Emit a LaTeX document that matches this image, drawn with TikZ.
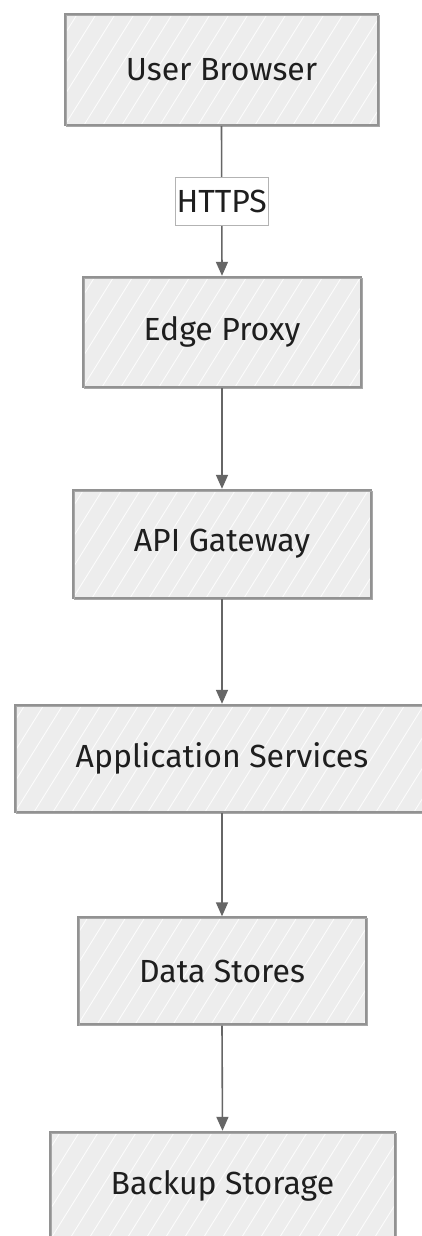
\documentclass[tikz,border=0pt]{standalone}
\usepackage{fontspec}
\setmainfont{Fira Sans}
\usetikzlibrary{arrows.meta}
\definecolor{boxfill}{HTML}{EDEDED}
\definecolor{boxline}{HTML}{929292}
\definecolor{wire}{HTML}{666666}
\definecolor{ink}{HTML}{1E1E1E}
\tikzset{
  hatched/.style={
    path picture={
      \foreach \i in {-8,...,28}
        \draw[white, line width=0.9pt, opacity=0.85]
          ([xshift=\i*19pt]path picture bounding box.south west) -- ++(58:260pt);
    }
  },
  stage/.style={
    rectangle, fill=boxfill, draw=boxline, line width=2.4pt,
    hatched, text=ink, font=\fontsize{32}{36}\selectfont,
    inner sep=0pt, minimum width=#1,
    postaction={draw=boxline!80, line width=0.8pt,
      transform canvas={shift={(1.3pt,-1.1pt)}}}
  },
  flow/.style={draw=wire, line width=1.6pt, -{Triangle[width=12pt,length=14pt]}},
  tag/.style={fill=white, draw=boxline!70, line width=0.7pt, text=ink,
    font=\fontsize{32}{36}\selectfont, inner xsep=1pt, inner ysep=0pt,
    minimum height=48pt}
}
\begin{document}
\begin{tikzpicture}[x=1pt,y=1pt]
\useasboundingbox (0,0) rectangle (422,-1236);
\fill[white] (0,0) rectangle (422,-1236);

\node[stage=313pt, minimum height=111pt] (ub)  at (221.5,-69.5) {User Browser};
\node[stage=278pt, minimum height=110pt] (ep)  at (222,-332)    {Edge Proxy};
\node[stage=298pt, minimum height=108pt] (api) at (222,-544)    {API Gateway};
\node[stage=414pt, minimum height=107pt] (app) at (222,-758.5)  {Application Services};
\node[stage=288pt, minimum height=107pt] (ds)  at (222,-971)    {Data Stores};
\node[stage=345pt, minimum height=108pt] (bs)  at (222.5,-1186) {Backup Storage};

\draw[flow] (ub.south) -- node[tag] {HTTPS} (ep.north);
\draw[flow] (ep.south) -- (api.north);
\draw[flow] (api.south) -- (app.north);
\draw[flow] (app.south) -- (ds.north);
\draw[flow] (ds.south) -- (bs.north);
\end{tikzpicture}
\end{document}
